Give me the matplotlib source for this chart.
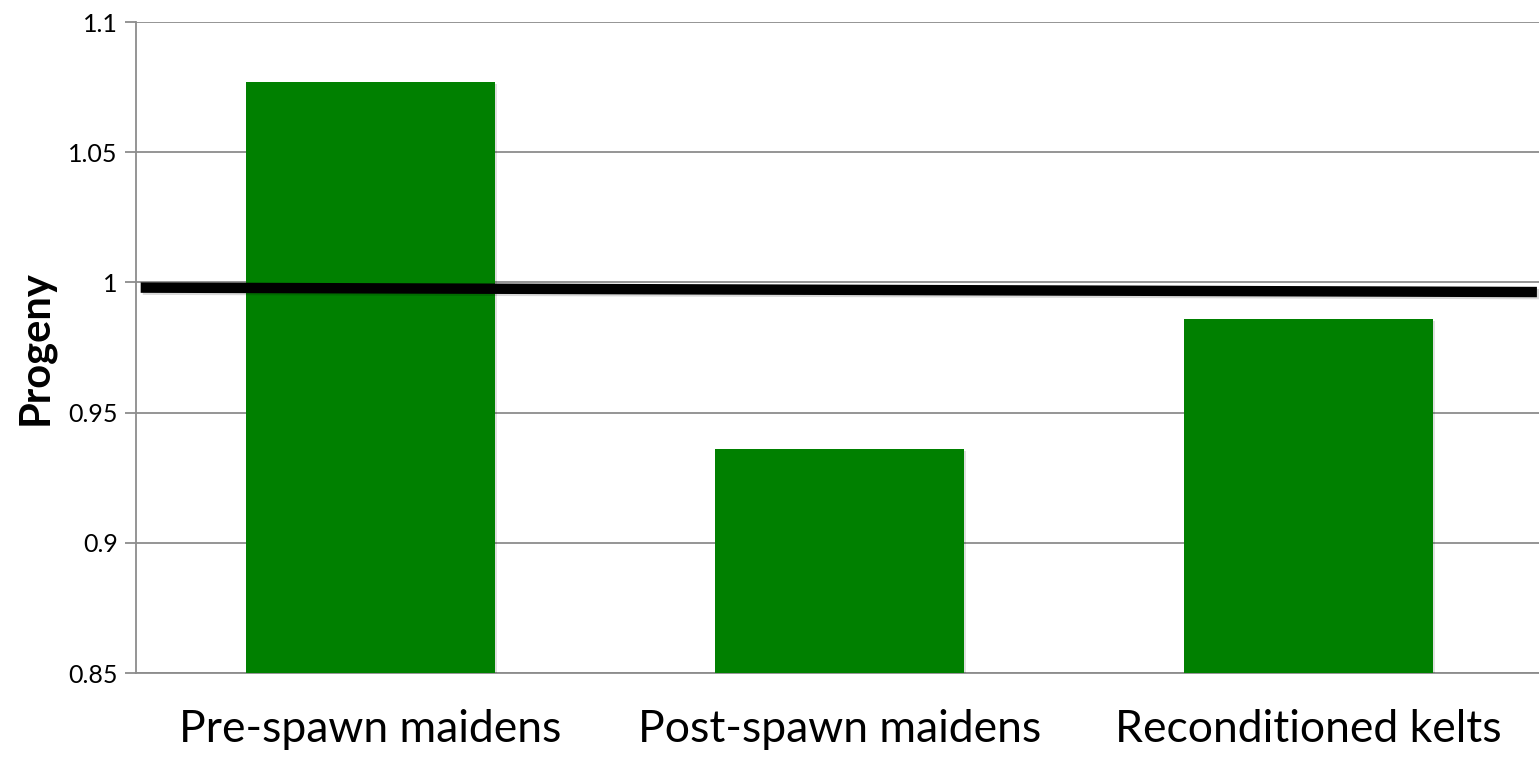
import matplotlib.pyplot as plt
import matplotlib.patheffects as pe

categories = ["Pre-spawn maidens", "Post-spawn maidens", "Reconditioned kelts"]
progeny = [1.077, 0.936, 0.986]

# replacement line, drawn across the whole plot
line_x = [-0.49, 2.487]
line_y = [0.998, 0.9963]

yticks = [0.85, 0.9, 0.95, 1.0, 1.05, 1.1]
ytick_labels = ["0.85", "0.9", "0.95", "1", "1.05", "1.1"]

plt.rcParams['font.family'] = ['Lato', 'DejaVu Sans']

fig = plt.figure(figsize=(15.39, 7.58), dpi=100)
ax = fig.add_axes([136 / 1539, 1 - 673 / 758, (1543 - 136) / 1539, (673 - 22) / 758])

shadow = [pe.SimplePatchShadow(offset=(1.5, -1.5), shadow_rgbFace='black', alpha=0.12), pe.Normal()]
bars = ax.bar(range(len(categories)), progeny, width=0.53, bottom=0, color='#008000', zorder=3)
for b in bars:
    b.set_path_effects(shadow)

ax.plot(line_x, line_y, color='black', linewidth=7.5, solid_capstyle='butt', zorder=4,
        path_effects=[pe.SimpleLineShadow(offset=(1.5, -1.5), alpha=0.15), pe.Normal()])

ax.set_xlim(-0.5, 2.5)
ax.set_ylim(0.85, 1.1)
ax.set_yticks(yticks)
ax.set_yticklabels(ytick_labels, fontsize=18)
ax.set_xticks(range(len(categories)))
ax.set_xticklabels(categories, fontsize=32)
ax.tick_params(axis='x', length=0, pad=26)
ax.tick_params(axis='y', length=8, width=1.3, color='#8c8c8c', pad=5)

ax.grid(axis='y', color='#8c8c8c', linewidth=1.3, zorder=0)
ax.set_axisbelow(True)
for side in ['top', 'right']:
    ax.spines[side].set_visible(False)
for side in ['left', 'bottom']:
    ax.spines[side].set_color('#8c8c8c')
    ax.spines[side].set_linewidth(1.3)

ax.set_ylabel("Progeny", fontsize=30, fontweight='bold', labelpad=10)

fig.savefig("out.png", dpi=100)
